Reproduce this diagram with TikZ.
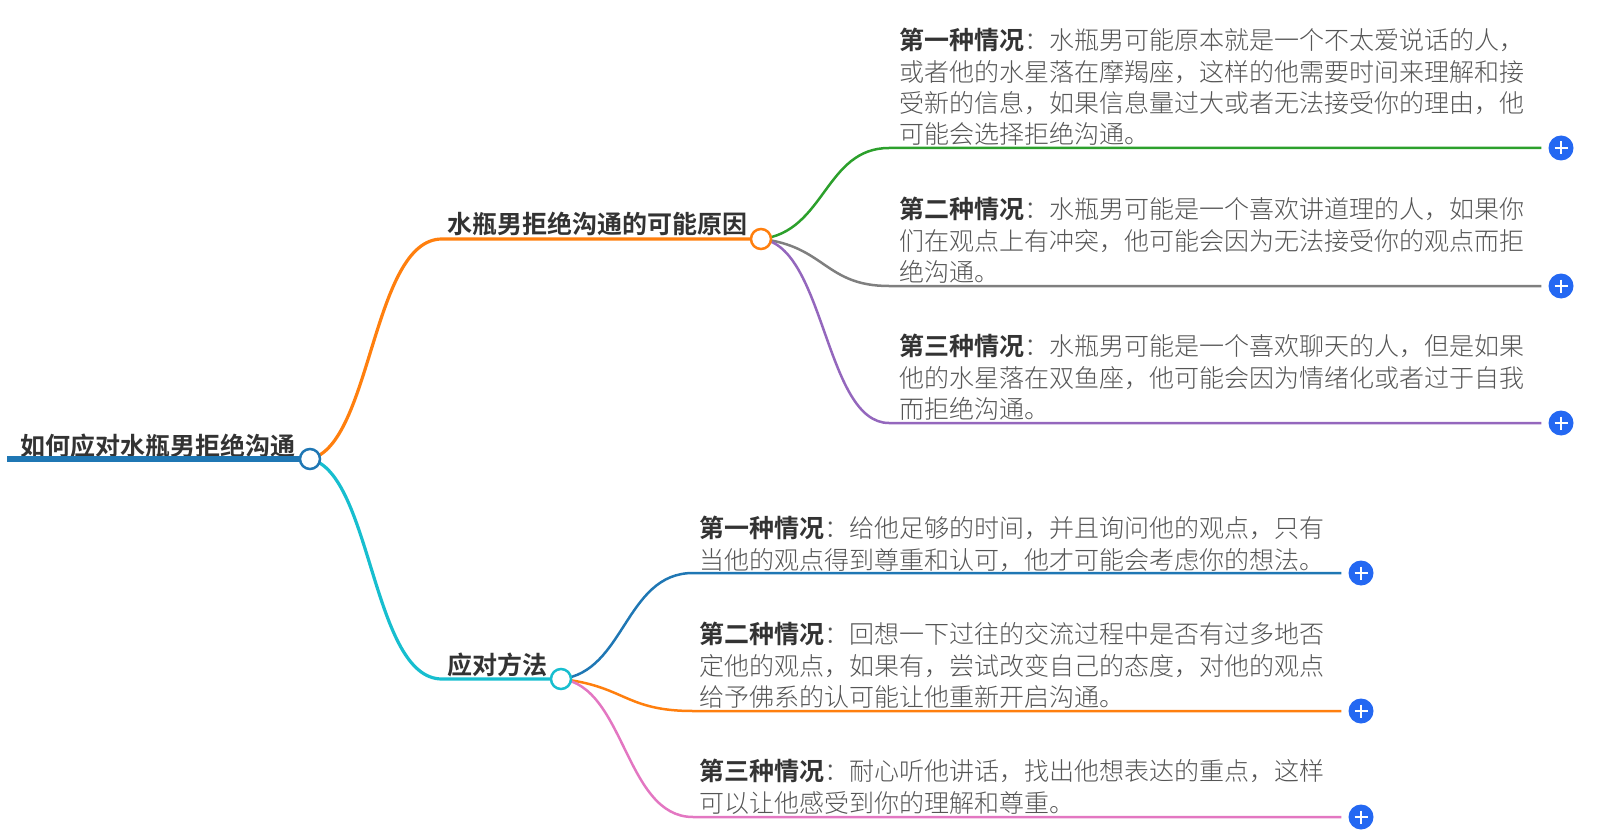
\documentclass[tikz,border=0pt]{standalone}
\usepackage{fontspec}
\setmainfont[BoldFont={Noto Sans CJK SC Bold}]{Noto Sans CJK SC Light}
\usepackage{tikz}
\usetikzlibrary{positioning,calc}
\definecolor{catblue}{HTML}{1F77B4}
\definecolor{catorange}{HTML}{FF7F0E}
\definecolor{catcyan}{HTML}{17BECF}
\definecolor{catgreen}{HTML}{2CA02C}
\definecolor{catgray}{HTML}{7F7F7F}
\definecolor{catpurple}{HTML}{9467BD}
\definecolor{catpink}{HTML}{E377C2}
\definecolor{plusblue}{HTML}{2468F2}
\definecolor{inkdark}{HTML}{333333}
\definecolor{inklight}{HTML}{555555}
\newcommand{\leadin}[1]{\textcolor{inkdark}{\textbf{#1}}}

\begin{document}
\begin{tikzpicture}[x=1pt,y=-1pt]
	\tikzset{headnode/.style = {anchor=west,inner sep=0,text=inkdark,font=\fontsize{25}{31}\selectfont\bfseries}}
	\tikzset{leafnode/.style = {anchor=north west,inner sep=0,align=left,text=inklight,font=\fontsize{25}{31.4}\selectfont}}
	\tikzset{ringdot/.style = {shape=circle,draw,fill=white,line width=2.5pt,minimum size=20pt,inner sep=0}}
	\tikzset{plusdot/.style = {shape=circle,fill=plusblue,minimum size=25pt,inner sep=0,
		path picture={\draw[white,line width=2.2pt] (path picture bounding box.center) +(-6.5,0) -- +(6.5,0) +(0,-6.5) -- +(0,6.5);}}}
	\tikzset{branch/.style = {line width=3.2pt}}
	\tikzset{twig/.style = {line width=2.5pt}}
	\useasboundingbox (0,0) rectangle (1601,837);
	% vertices
	\coordinate (rootstart) at (7,459);
	\coordinate (rootmid) at (310,459);
	\coordinate (whymid) at (761,239);
	\coordinate (howmid) at (561,679);
	\coordinate (whyend) at (442,239);
	\coordinate (howend) at (442,679);
	\coordinate (whyaend) at (889,148);
	\coordinate (whybend) at (889,286);
	\coordinate (whycend) at (889,423);
	\coordinate (howaend) at (693,573);
	\coordinate (howbend) at (693,711);
	\coordinate (howcend) at (693,817);
	\node[plusdot] (whyaplus) at (1561,148) {};
	\node[plusdot] (whybplus) at (1561,286) {};
	\node[plusdot] (whycplus) at (1561,423) {};
	\node[plusdot] (howaplus) at (1361,573) {};
	\node[plusdot] (howbplus) at (1361,711) {};
	\node[plusdot] (howcplus) at (1361,817) {};
	% labels
	\node[headnode] (roottext) at (20,446) {如何应对水瓶男拒绝沟通};
	\node[headnode] (whytext) at (447,224) {水瓶男拒绝沟通的可能原因};
	\node[headnode] (howtext) at (447,665) {应对方法};
	\node[leafnode] (whya) at (899,28) {\leadin{第一种情况}：水瓶男可能原本就是一个不太爱说话的人，\\或者他的水星落在摩羯座，这样的他需要时间来理解和接\\受新的信息，如果信息量过大或者无法接受你的理由，他\\可能会选择拒绝沟通。};
	\node[leafnode] (whyb) at (899,197) {\leadin{第二种情况}：水瓶男可能是一个喜欢讲道理的人，如果你\\们在观点上有冲突，他可能会因为无法接受你的观点而拒\\绝沟通。};
	\node[leafnode] (whyc) at (899,334) {\leadin{第三种情况}：水瓶男可能是一个喜欢聊天的人，但是如果\\他的水星落在双鱼座，他可能会因为情绪化或者过于自我\\而拒绝沟通。};
	\node[leafnode] (howa) at (699,516) {\leadin{第一种情况}：给他足够的时间，并且询问他的观点，只有\\当他的观点得到尊重和认可，他才可能会考虑你的想法。};
	\node[leafnode] (howb) at (699,622) {\leadin{第二种情况}：回想一下过往的交流过程中是否有过多地否\\定他的观点，如果有，尝试改变自己的态度，对他的观点\\给予佛系的认可能让他重新开启沟通。};
	\node[leafnode] (howc) at (699,759) {\leadin{第三种情况}：耐心听他讲话，找出他想表达的重点，这样\\可以让他感受到你的理解和尊重。};
	%edges
	\draw[line width=5.5pt,catblue] (rootstart) -- (rootmid);
	\draw[branch,catorange] (rootmid) .. controls (372,445) and (372,239) .. (whyend) -- (whymid);
	\draw[branch,catcyan] (rootmid) .. controls (372,473) and (372,679) .. (howend) -- (howmid);
	\draw[twig,catgreen] (whymid) .. controls (825,232) and (825,148) .. (whyaend) -- ($(whyaplus.west)+(-7,0)$);
	\draw[twig,catgray] (whymid) .. controls (825,246) and (825,286) .. (whybend) -- ($(whybplus.west)+(-7,0)$);
	\draw[twig,catpurple] (whymid) .. controls (825,246) and (825,423) .. (whycend) -- ($(whycplus.west)+(-7,0)$);
	\draw[twig,catblue] (howmid) .. controls (625,672) and (625,573) .. (howaend) -- ($(howaplus.west)+(-7,0)$);
	\draw[twig,catorange] (howmid) .. controls (625,686) and (625,711) .. (howbend) -- ($(howbplus.west)+(-7,0)$);
	\draw[twig,catpink] (howmid) .. controls (625,686) and (625,817) .. (howcend) -- ($(howcplus.west)+(-7,0)$);
	% rings go over the line ends
	\node[ringdot,draw=catblue] (root) at (rootmid) {};
	\node[ringdot,draw=catorange] (why) at (whymid) {};
	\node[ringdot,draw=catcyan] (how) at (howmid) {};
\end{tikzpicture}
\end{document}
